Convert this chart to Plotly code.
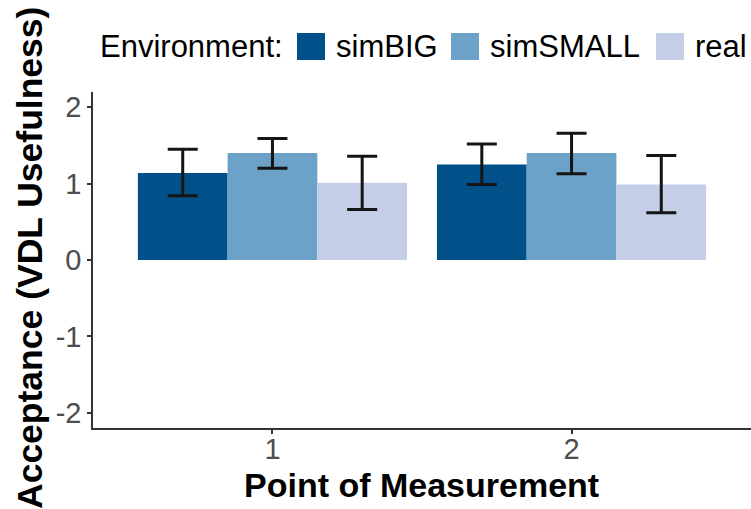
import plotly.graph_objects as go

# ---- data ----
points = [1, 2]
environments = ["simBIG", "simSMALL", "real"]
mean_simBIG = [1.14, 1.25]
mean_simSMALL = [1.40, 1.40]
mean_real = [1.01, 0.99]
upper_simBIG = [1.45, 1.52]
lower_simBIG = [0.84, 0.99]
upper_simSMALL = [1.59, 1.66]
lower_simSMALL = [1.20, 1.13]
upper_real = [1.36, 1.37]
lower_real = [0.66, 0.62]
y_ticks = [-2, -1, 0, 1, 2]
y_tick_labels = ["-2", "-1", "0", "1", "2"]

colors = {"simBIG": "#02508A", "simSMALL": "#6CA2C7", "real": "#C4CFE7"}
series = {
    "simBIG": (mean_simBIG, upper_simBIG, lower_simBIG),
    "simSMALL": (mean_simSMALL, upper_simSMALL, lower_simSMALL),
    "real": (mean_real, upper_real, lower_real),
}

FONT = "Liberation Sans, Arial, sans-serif"
W, H = 751, 509
ML, MR, MT, MB = 93, 0, 92, 81
PW, PH = W - ML - MR, H - MT - MB

fig = go.Figure()
for env in environments:
    m, up, lo = series[env]
    fig.add_trace(go.Bar(
        x=points, y=m, name=env, offsetgroup=env,
        marker=dict(color=colors[env], line=dict(width=0)),
        error_y=dict(type="data", symmetric=False,
                     array=[u - v for u, v in zip(up, m)],
                     arrayminus=[v - l for v, l in zip(m, lo)],
                     color="#151515", thickness=3, width=15),
        showlegend=False,
    ))

# manual legend and titles (pixel layout converted to paper coords)
def px_x(p):
    return (p - ML) / PW

def px_y(p):
    return (H - MB - p) / PH

shapes = []
annotations = [dict(text="Environment:", x=px_x(98), y=px_y(46), xref="paper", yref="paper",
                    xanchor="left", yanchor="middle", showarrow=False,
                    font=dict(family=FONT, size=31, color="#000000"))]
legend_swatch_x = [297, 451, 656]
legend_text_x = [334, 488, 693]
for env, sx, tx in zip(environments, legend_swatch_x, legend_text_x):
    shapes.append(dict(type="rect", xref="paper", yref="paper",
                       x0=px_x(sx), x1=px_x(sx + 28), y0=px_y(60), y1=px_y(33),
                       fillcolor=colors[env], line=dict(width=0)))
    annotations.append(dict(text=env, x=px_x(tx), y=px_y(46), xref="paper", yref="paper",
                            xanchor="left", yanchor="middle", showarrow=False,
                            font=dict(family=FONT, size=31, color="#000000")))

annotations.append(dict(text="<b>Point of Measurement</b>", x=px_x(421), y=px_y(485),
                        xref="paper", yref="paper", xanchor="center", yanchor="middle",
                        showarrow=False, font=dict(family=FONT, size=34, color="#000000")))
annotations.append(dict(text="<b>Acceptance (VDL Usefulness)</b>", x=px_x(30), y=px_y(258),
                        xref="paper", yref="paper", xanchor="center", yanchor="middle",
                        textangle=-90, showarrow=False,
                        font=dict(family=FONT, size=35.5, color="#000000")))

fig.update_layout(
    width=W, height=H,
    margin=dict(l=ML, r=MR, t=MT, b=MB, pad=0),
    paper_bgcolor="white", plot_bgcolor="white",
    barmode="group", bargap=0.1, bargroupgap=0,
    font=dict(family=FONT),
    shapes=shapes, annotations=annotations,
    xaxis=dict(range=[0.4, 2.6], tickvals=points, ticktext=[str(p) for p in points],
               showline=True, linecolor="#333333", linewidth=1.5,
               ticks="outside", ticklen=4, tickwidth=1.5, tickcolor="#333333",
               showgrid=False, zeroline=False, ticklabelstandoff=-10,
               tickfont=dict(family=FONT, size=29, color="#4D4D4D")),
    yaxis=dict(range=[-2.2, 2.2], tickvals=y_ticks, ticktext=y_tick_labels,
               showline=True, linecolor="#333333", linewidth=1.5,
               ticks="outside", ticklen=4, tickwidth=1.5, tickcolor="#333333",
               showgrid=False, zeroline=False,
               tickfont=dict(family=FONT, size=29, color="#4D4D4D")),
)

fig.write_html("out.html")
